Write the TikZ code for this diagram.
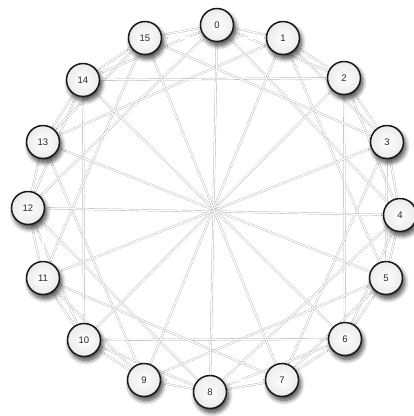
\documentclass[tikz,border=0pt]{standalone}
\usepackage{fontspec}
\setmainfont{Liberation Sans}
\usetikzlibrary{shadows.blur,backgrounds}
\begin{document}
\begin{tikzpicture}[x=1pt,y=-1pt,
  peer/.style={circle,draw=black!90,line width=1.5pt,minimum size=33pt,inner sep=0pt,
    shading=radial,inner color=white,outer color=black!8,
    font=\fontsize{9.5}{12}\selectfont,text=black!85,
    blur shadow={shadow xshift=2pt,shadow yshift=-4pt,shadow blur steps=10,shadow opacity=75,shadow blur radius=4.5pt}},
  link/.style={draw=black!32,line width=0.35pt,double=white,double distance=1.3pt}]
\useasboundingbox (0,0) rectangle (414,416);
\foreach \i/\x/\y in {0/217/25,1/283/38,2/344/78,3/387/142,4/400/215,5/386/278,6/345/339,7/282/380,
  8/210/392,9/144/380,10/84/340,11/43/278,12/28/208,13/43/142,14/83/80,15/145/38}
  \node[peer] (n\i) at (\x,\y) {\i};
\begin{pgfonlayer}{background}
\foreach \i in {0,...,15}{
  \pgfmathtruncatemacro\a{mod(\i+1,16)}
  \pgfmathtruncatemacro\b{mod(\i+2,16)}
  \pgfmathtruncatemacro\c{mod(\i+4,16)}
  \draw[link] (n\i) -- (n\a);
  \draw[link] (n\i) -- (n\b);
  \draw[link] (n\i) -- (n\c);
}
\foreach \i in {0,...,7}{
  \pgfmathtruncatemacro\d{\i+8}
  \draw[link] (n\i) -- (n\d);
}
\end{pgfonlayer}
\end{tikzpicture}
\end{document}
